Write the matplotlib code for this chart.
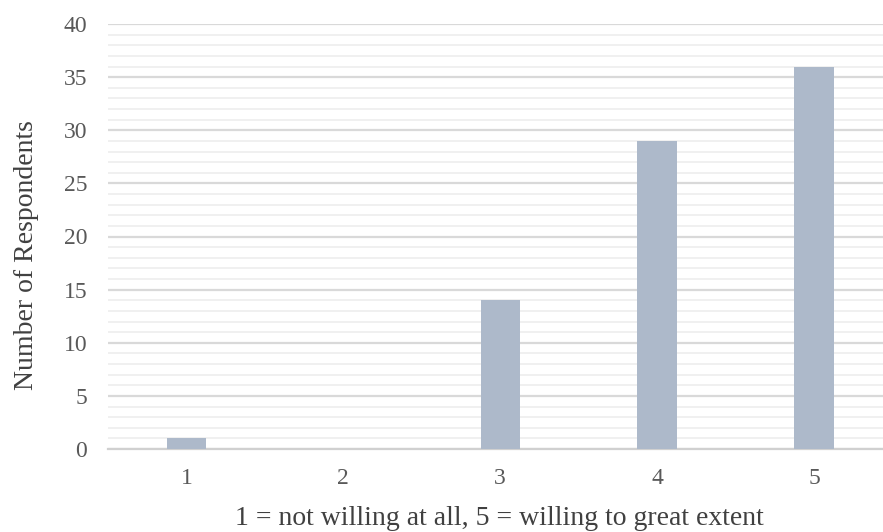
import matplotlib.pyplot as plt
from matplotlib.ticker import MultipleLocator

categories = ["1", "2", "3", "4", "5"]
respondents = [1, 0, 14, 29, 36]

plt.rcParams['font.family'] = ['Liberation Serif', 'DejaVu Serif']

fig = plt.figure(figsize=(8.83, 5.32), dpi=100)
ax = fig.add_axes([108 / 883, 1 - 449 / 532, 1 - 108 / 883, (449 - 24) / 532])

x = list(range(1, len(categories) + 1))
ax.bar(x, respondents, width=0.25, color="#ADB9CA", zorder=3)

ax.set_xlim(0.5, 5.44)
ax.set_ylim(0, 40)
ax.set_xticks(x)
ax.set_xticklabels(categories)
ax.yaxis.set_major_locator(MultipleLocator(5))
ax.yaxis.set_minor_locator(MultipleLocator(1))

ax.grid(axis="y", which="major", color="#D9D9D9", linewidth=1.6, zorder=0)
ax.grid(axis="y", which="minor", color="#EDEDED", linewidth=1.2, zorder=0)

for side in ("top", "right", "left"):
    ax.spines[side].set_visible(False)
ax.spines["bottom"].set_color("#D0D0D0")
ax.spines["bottom"].set_linewidth(1.6)

ax.tick_params(axis="both", which="both", length=0, labelsize=17, colors="#595959")
ax.tick_params(axis="y", pad=15)
ax.tick_params(axis="x", pad=14)

ax.set_xlabel("1 = not willing at all, 5 = willing to great extent", fontsize=20,
              color="#404040")
ax.xaxis.set_label_coords(0.505, -0.135)
ax.set_ylabel("Number of Respondents", fontsize=20, color="#404040")
ax.yaxis.set_label_coords(-0.089, 0.456)

fig.savefig("out.png", dpi=100)
